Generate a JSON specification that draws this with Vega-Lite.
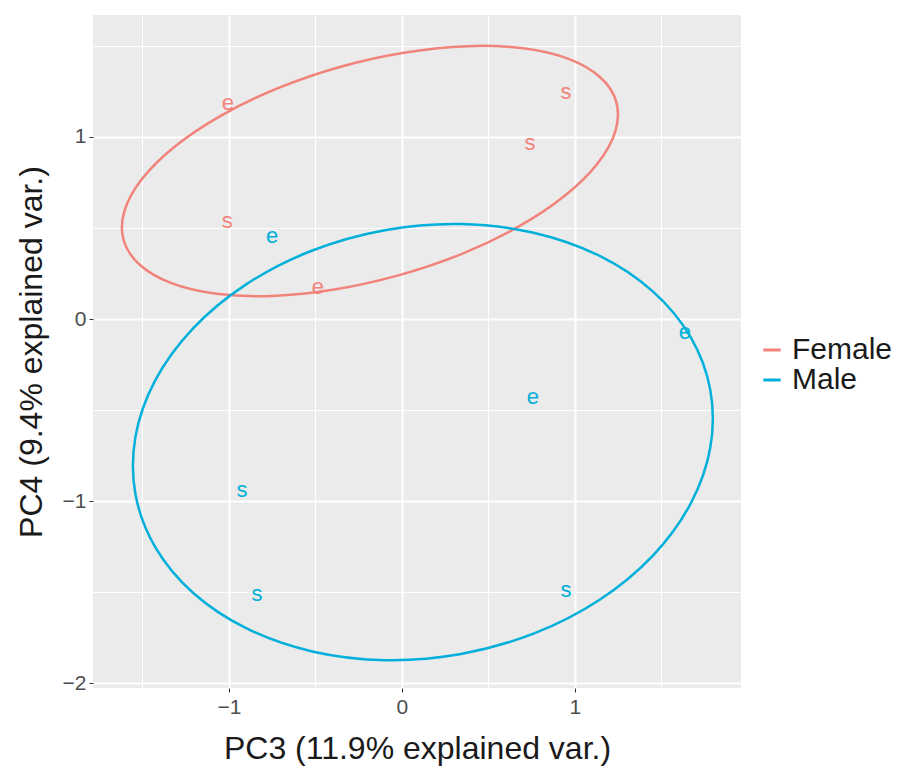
{
  "$schema": "https://vega.github.io/schema/vega-lite/v6.json",
  "width": 648,
  "height": 673,
  "autosize": {"type": "none"},
  "padding": {"left": 93, "top": 15, "right": 172, "bottom": 95},
  "background": "white",
  "config": {
    "view": {"fill": "#EBEBEB", "stroke": null},
    "font": "Liberation Sans",
    "axis": {
      "domain": false,
      "gridColor": "white",
      "labelColor": "#4D4D4D",
      "labelFontSize": 21,
      "titleFontSize": 32,
      "titleFontWeight": "normal",
      "titleColor": "#1A1A1A",
      "tickColor": "#333333",
      "tickSize": 4
    }
  },
  "datasets": {
    "ellipses": [
      {"group": "Female", "t": 0, "x": 1.239, "y": 1.193},
      {"group": "Female", "t": 15, "x": 1.234, "y": 1.032},
      {"group": "Female", "t": 30, "x": 1.132, "y": 0.856},
      {"group": "Female", "t": 45, "x": 0.941, "y": 0.677},
      {"group": "Female", "t": 60, "x": 0.673, "y": 0.507},
      {"group": "Female", "t": 75, "x": 0.347, "y": 0.358},
      {"group": "Female", "t": 90, "x": -0.016, "y": 0.241},
      {"group": "Female", "t": 105, "x": -0.390, "y": 0.162},
      {"group": "Female", "t": 120, "x": -0.750, "y": 0.127},
      {"group": "Female", "t": 135, "x": -1.072, "y": 0.139},
      {"group": "Female", "t": 150, "x": -1.333, "y": 0.197},
      {"group": "Female", "t": 165, "x": -1.516, "y": 0.298},
      {"group": "Female", "t": 180, "x": -1.609, "y": 0.433},
      {"group": "Female", "t": 195, "x": -1.604, "y": 0.594},
      {"group": "Female", "t": 210, "x": -1.502, "y": 0.770},
      {"group": "Female", "t": 225, "x": -1.311, "y": 0.949},
      {"group": "Female", "t": 240, "x": -1.043, "y": 1.119},
      {"group": "Female", "t": 255, "x": -0.717, "y": 1.268},
      {"group": "Female", "t": 270, "x": -0.354, "y": 1.386},
      {"group": "Female", "t": 285, "x": 0.020, "y": 1.464},
      {"group": "Female", "t": 300, "x": 0.380, "y": 1.499},
      {"group": "Female", "t": 315, "x": 0.702, "y": 1.487},
      {"group": "Female", "t": 330, "x": 0.963, "y": 1.429},
      {"group": "Female", "t": 345, "x": 1.146, "y": 1.328},
      {"group": "Male", "t": 0, "x": 1.783, "y": -0.392},
      {"group": "Male", "t": 15, "x": 1.783, "y": -0.703},
      {"group": "Male", "t": 30, "x": 1.670, "y": -1.012},
      {"group": "Male", "t": 45, "x": 1.452, "y": -1.298},
      {"group": "Male", "t": 60, "x": 1.143, "y": -1.542},
      {"group": "Male", "t": 75, "x": 0.764, "y": -1.727},
      {"group": "Male", "t": 90, "x": 0.341, "y": -1.840},
      {"group": "Male", "t": 105, "x": -0.096, "y": -1.874},
      {"group": "Male", "t": 120, "x": -0.519, "y": -1.826},
      {"group": "Male", "t": 135, "x": -0.898, "y": -1.700},
      {"group": "Male", "t": 150, "x": -1.208, "y": -1.504},
      {"group": "Male", "t": 165, "x": -1.427, "y": -1.252},
      {"group": "Male", "t": 180, "x": -1.541, "y": -0.960},
      {"group": "Male", "t": 195, "x": -1.541, "y": -0.649},
      {"group": "Male", "t": 210, "x": -1.428, "y": -0.340},
      {"group": "Male", "t": 225, "x": -1.210, "y": -0.054},
      {"group": "Male", "t": 240, "x": -0.901, "y": 0.190},
      {"group": "Male", "t": 255, "x": -0.522, "y": 0.375},
      {"group": "Male", "t": 270, "x": -0.099, "y": 0.488},
      {"group": "Male", "t": 285, "x": 0.338, "y": 0.522},
      {"group": "Male", "t": 300, "x": 0.761, "y": 0.474},
      {"group": "Male", "t": 315, "x": 1.140, "y": 0.348},
      {"group": "Male", "t": 330, "x": 1.450, "y": 0.152},
      {"group": "Male", "t": 345, "x": 1.669, "y": -0.100}
    ],
    "points": [
      {"group": "Female", "label": "e", "x": -1.006, "y": 1.187},
      {"group": "Female", "label": "s", "x": 0.948, "y": 1.247},
      {"group": "Female", "label": "s", "x": 0.740, "y": 0.967},
      {"group": "Female", "label": "s", "x": -1.010, "y": 0.538},
      {"group": "Female", "label": "e", "x": -0.486, "y": 0.176},
      {"group": "Male", "label": "e", "x": -0.751, "y": 0.456},
      {"group": "Male", "label": "e", "x": 1.636, "y": -0.071},
      {"group": "Male", "label": "e", "x": 0.757, "y": -0.429},
      {"group": "Male", "label": "s", "x": -0.925, "y": -0.940},
      {"group": "Male", "label": "s", "x": -0.838, "y": -1.511},
      {"group": "Male", "label": "s", "x": 0.948, "y": -1.489}
    ]
  },
  "encoding": {
    "x": {
      "field": "x",
      "type": "quantitative",
      "scale": {"domain": [-1.786, 1.96], "nice": false, "zero": false},
      "axis": {
        "title": "PC3 (11.9% explained var.)",
        "values": [-1.5, -1, -0.5, 0, 0.5, 1, 1.5],
        "labelExpr": "datum.value % 1 === 0 ? format(datum.value, 'd') : ''",
        "gridWidth": {"condition": {"test": "datum.value % 1 === 0", "value": 2}, "value": 1},
        "tickOpacity": {"condition": {"test": "datum.value % 1 === 0", "value": 1}, "value": 0},
        "labelPadding": 4,
        "titlePadding": 16
      }
    },
    "y": {
      "field": "y",
      "type": "quantitative",
      "scale": {"domain": [-2.027, 1.67], "nice": false, "zero": false},
      "axis": {
        "title": "PC4 (9.4% explained var.)",
        "values": [-2, -1.5, -1, -0.5, 0, 0.5, 1, 1.5],
        "labelExpr": "datum.value % 1 === 0 ? format(datum.value, 'd') : ''",
        "gridWidth": {"condition": {"test": "datum.value % 1 === 0", "value": 2}, "value": 1},
        "tickOpacity": {"condition": {"test": "datum.value % 1 === 0", "value": 1}, "value": 0},
        "labelPadding": 3,
        "titlePadding": 14
      }
    },
    "color": {
      "field": "group",
      "type": "nominal",
      "scale": {"domain": ["Female", "Male"], "range": ["#F2837A", "#00B0DA"]},
      "legend": {
        "title": null,
        "orient": "none",
        "legendX": 664,
        "legendY": 320,
        "padding": 0,
        "symbolType": "stroke",
        "symbolStrokeWidth": 3,
        "symbolSize": 300,
        "labelFontSize": 30,
        "labelColor": "#1A1A1A",
        "labelLimit": 200,
        "rowPadding": 0,
        "labelOffset": 5
      }
    }
  },
  "layer": [
    {
      "data": {"name": "ellipses"},
      "mark": {"type": "line", "strokeWidth": 2.5, "interpolate": "cardinal-closed"},
      "encoding": {"order": {"field": "t", "type": "quantitative"}}
    },
    {
      "data": {"name": "points"},
      "mark": {"type": "text", "fontSize": 22, "baseline": "middle", "align": "center"},
      "encoding": {"text": {"field": "label", "type": "nominal"}}
    }
  ]
}
